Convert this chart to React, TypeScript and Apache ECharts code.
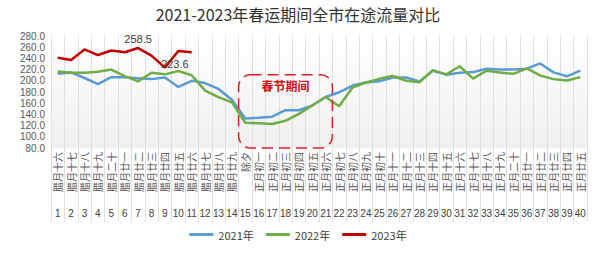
import React, { useEffect, useRef } from "react";
import * as echarts from "echarts";

const lunarLabels = ['腊月十六','腊月十七','腊月十八','腊月十九','腊月二十','腊月廿一','腊月廿二','腊月廿三','腊月廿四','腊月廿五','腊月廿六','腊月廿七','腊月廿八','腊月廿九','除夕','正月初一','正月初二','正月初三','正月初四','正月初五','正月初六','正月初七','正月初八','正月初九','正月初十','正月十一','正月十二','正月十三','正月十四','正月十五','正月十六','正月十七','正月十八','正月十九','正月二十','正月廿一','正月廿二','正月廿三','正月廿四','正月廿五'];
const dayNumbers = lunarLabels.map((_, i) => String(i + 1));

const y2021 = [212.5, 215, 205, 194, 206.5, 206.5, 204.5, 203, 206, 189, 200, 196, 185.5, 166, 132.5, 134, 136, 147.5, 147.5, 156, 171, 179.5, 191.5, 197, 199, 206, 206, 199, 218, 211, 214.5, 215.5, 221.5, 220, 220, 221.5, 231, 215, 208, 218];
const y2022 = [216.5, 214.5, 214.5, 216, 220, 208.5, 199, 214.5, 211.5, 217.5, 210, 182.5, 171, 161.5, 125, 124, 123, 128.5, 141, 156, 171, 154.5, 188, 197, 203.5, 208.5, 200, 197.5, 219, 211.5, 226, 204, 218, 215, 212.5, 222, 209.5, 203, 200.5, 206.5];
const y2023 = [241, 237, 256, 246, 254, 251, 258.5, 245, 223.6, 253, 251];
const labeledPoints = [6, 8];
const seriesNames = ['2021年', '2022年', '2023年'];

const FONT = '"Noto Sans CJK SC", "Noto Sans", sans-serif';
const NUMFONT = '"Liberation Sans", Arial, sans-serif';

export default function App() {
  const ref = useRef<HTMLDivElement>(null);
  useEffect(() => {
    if (!ref.current) return;
    document.body.style.margin = '0';
    const chart = echarts.init(ref.current, undefined, { renderer: "svg" });
    chart.setOption({
      animation: false,
      textStyle: { fontFamily: FONT },
      title: {
        text: '2021-2023年春运期间全市在途流量对比',
        left: 'center',
        top: 1,
        textStyle: { fontSize: 16, fontWeight: 'normal', color: '#333333', fontFamily: FONT },
      },
      legend: {
        bottom: 9,
        left: 'center',
        icon: 'rect',
        itemWidth: 24,
        itemHeight: 3,
        itemGap: 12,
        textStyle: { fontSize: 11, color: '#404040', fontFamily: FONT },
        data: seriesNames,
      },
      grid: {
        left: 51, right: 9, top: 36, bottom: 106,
        show: true,
        borderWidth: 0,
        backgroundColor: {
          type: 'linear', x: 0, y: 0, x2: 0, y2: 1,
          colorStops: [{ offset: 0, color: '#ffffff' }, { offset: 1, color: '#f0f0f0' }],
        },
      },
      xAxis: [
        {
          type: 'category',
          data: lunarLabels,
          boundaryGap: true,
          axisLine: { show: false },
          axisTick: { show: true, length: 74, lineStyle: { color: '#e0e0e0' } },
          splitLine: { show: true, lineStyle: { color: '#e0e0e0' } },
          axisLabel: { rotate: 90, interval: 0, fontSize: 10, lineHeight: 11, color: '#595959', margin: 4, fontFamily: FONT },
        },
        {
          type: 'category',
          data: dayNumbers,
          position: 'bottom',
          offset: 58,
          boundaryGap: true,
          axisLine: { show: false },
          axisTick: { show: false },
          axisLabel: { interval: 0, fontSize: 10, color: '#404040', margin: 2, fontFamily: NUMFONT },
        },
      ],
      yAxis: {
        type: 'value',
        min: 80, max: 280, interval: 20,
        axisLine: { show: false },
        axisTick: { show: false },
        splitLine: { show: false },
        axisLabel: { fontSize: 10, lineHeight: 10, color: '#595959', margin: 6, formatter: (v: number) => v.toFixed(1), fontFamily: NUMFONT },
      },
      series: [
        {
          name: seriesNames[0], type: 'line', data: y2021, xAxisIndex: 0,
          symbol: 'none', lineStyle: { width: 2.5, color: '#5B9BD5' }, itemStyle: { color: '#5B9BD5' },
        },
        {
          name: seriesNames[1], type: 'line', data: y2022, xAxisIndex: 0,
          symbol: 'none', lineStyle: { width: 2.5, color: '#70AD47' }, itemStyle: { color: '#70AD47' },
        },
        {
          name: seriesNames[2], type: 'line', xAxisIndex: 0,
          data: y2023.map((v, i) => labeledPoints.includes(i)
            ? { value: v, label: { show: true, position: 'top', offset: i === 6 ? [0, 2] : [10, 7], formatter: String(v), fontSize: 11, color: '#404040', fontFamily: NUMFONT } }
            : v),
          symbol: 'circle', symbolSize: 0.1, showSymbol: true,
          lineStyle: { width: 2.5, color: '#C00000' }, itemStyle: { color: '#C00000' },
        },
      ],
    });

    const p1 = chart.convertToPixel({ xAxisIndex: 0, yAxisIndex: 0 }, [13, 211]) as number[];
    const p2 = chart.convertToPixel({ xAxisIndex: 0, yAxisIndex: 0 }, [14, 80]) as number[];
    const p3 = chart.convertToPixel({ xAxisIndex: 0, yAxisIndex: 0 }, [21, 80]) as number[];
    const half = (p2[0] - p1[0]) / 2;
    const x0 = p2[0] - half;
    const x1 = p3[0] - half;
    const y0 = p1[1];
    const y1 = p2[1];
    chart.setOption({
      graphic: [
        {
          type: 'rect',
          shape: { x: x0, y: y0, width: x1 - x0, height: y1 - y0, r: 12 },
          style: { fill: 'none', stroke: '#E02020', lineWidth: 1.5, lineDash: [11, 6] },
          z: 100,
        },
        {
          type: 'text',
          x: (x0 + x1) / 2, y: y0 + 11,
          style: { text: '春节期间', fill: '#D01010', font: `bold 12px ${FONT}`, align: 'center', verticalAlign: 'middle' },
          z: 100,
        },
      ],
    });
    return () => chart.dispose();
  }, []);
  return <div ref={ref} style={{ width: 596, height: 254 }} />;
}
